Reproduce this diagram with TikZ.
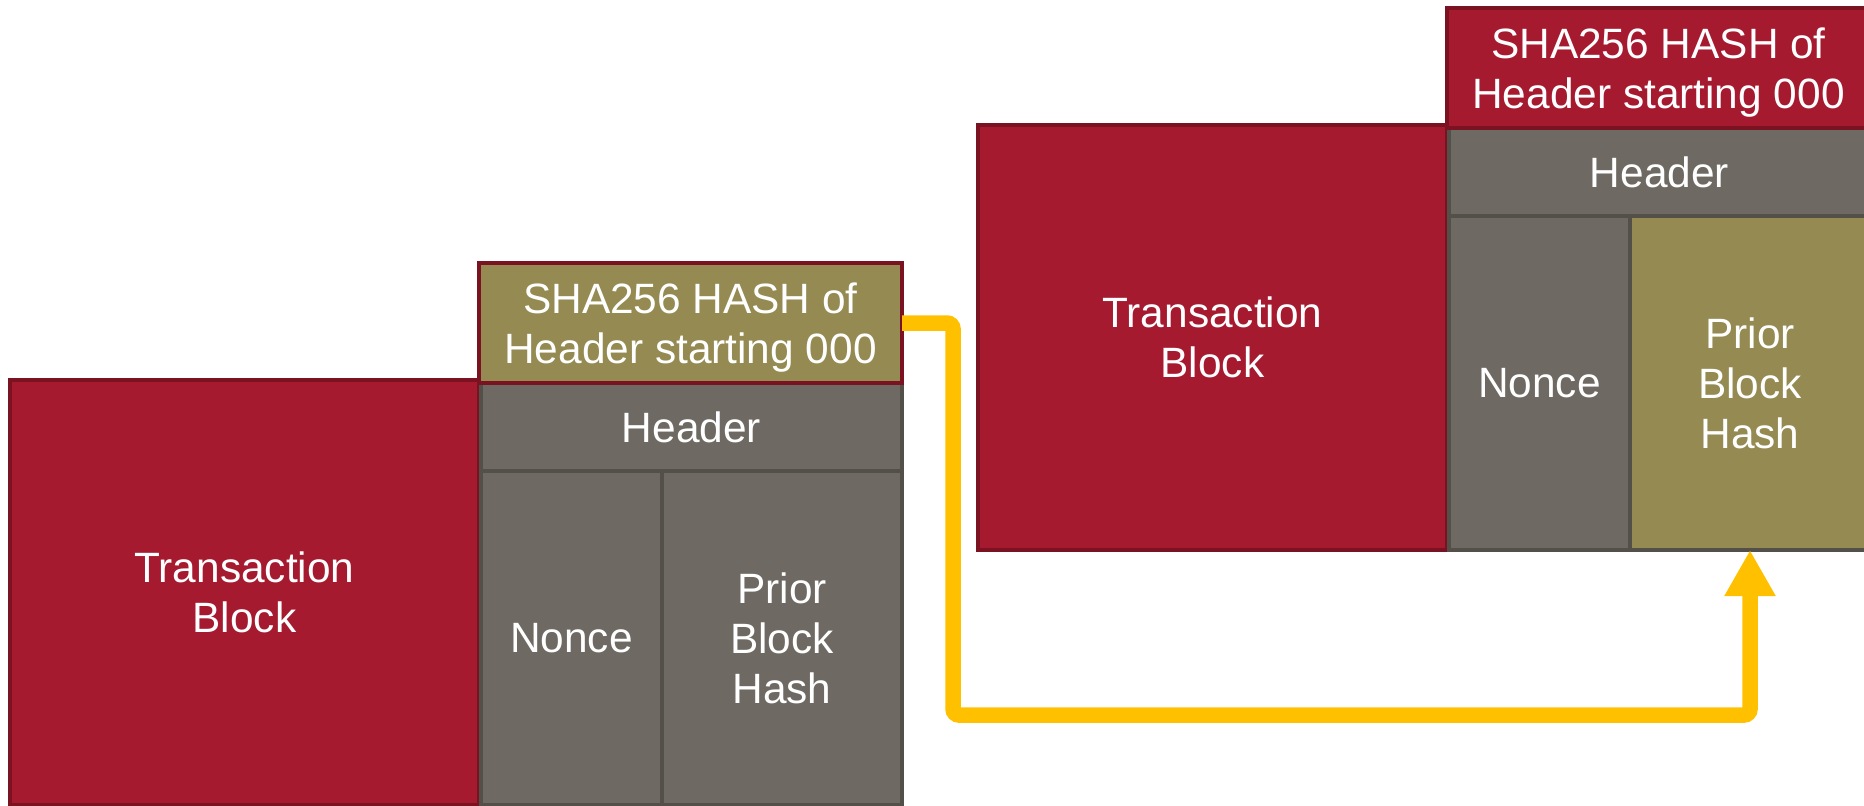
\documentclass[tikz,border=0pt]{standalone}
\usepackage{fontspec}
\setmainfont{Liberation Sans}
\usetikzlibrary{arrows.meta}
\definecolor{blockred}{HTML}{A61A30}
\definecolor{blockredline}{HTML}{7A1222}
\definecolor{headgrey}{HTML}{6E6A63}
\definecolor{headgreyline}{HTML}{53504A}
\definecolor{hasholive}{HTML}{948A52}
\definecolor{linkyellow}{HTML}{FFC000}
\begin{document}
\begin{tikzpicture}[x=0.5pt,y=-0.5pt,
  box/.style={draw, line width=2.2pt, inner sep=0pt, outer sep=0pt, anchor=north west,
    text=white, align=center, font=\fontsize{21.2pt}{25pt}\selectfont},
  redbox/.style={box, fill=blockred, draw=blockredline},
  greybox/.style={box, fill=headgrey, draw=headgreyline},
  transbox/.style={redbox, minimum width=234.5pt, minimum height=212.5pt},
  hashbox/.style={box, draw=blockredline, minimum width=211.5pt, minimum height=60pt, text depth=0pt},
  headbox/.style={greybox, minimum width=210.5pt, minimum height=44pt},
  noncebox/.style={greybox, minimum width=90.5pt, minimum height=167pt},
  priorbox/.style={greybox, minimum width=120pt, minimum height=167pt},
  link/.style={draw=linkyellow, line width=7.75pt, rounded corners=3pt,
    -{Triangle[width=24pt,length=23pt]}}
]
\useasboundingbox (0,0) rectangle (1864,805);

% earlier block: its header hash feeds the next block
\begin{scope}[shift={(10,380)}]
  \node[transbox] (L-trans) at (0,0) {Transaction\\Block};
  \node[headbox] (L-head) at (471,3) {Header};
  \node[noncebox] (L-nonce) at (471,91) {Nonce};
  \node[priorbox] (L-prior) at (652,91) {Prior\\Block\\Hash};
  \node[hashbox, fill=hasholive] (L-hash) at (469,-117) {SHA256 HASH of\\Header starting 000};
\end{scope}

% later block: stores the prior hash
\begin{scope}[shift={(978,125)}]
  \node[transbox] (R-trans) at (0,0) {Transaction\\Block};
  \node[headbox] (R-head) at (471,3) {Header};
  \node[noncebox] (R-nonce) at (471,91) {Nonce};
  \node[priorbox, fill=hasholive] (R-prior) at (652,91) {Prior\\Block\\Hash};
  \node[hashbox, fill=blockred] (R-hash) at (469,-117) {SHA256 HASH of\\Header starting 000};
\end{scope}

% hash carried into the next block
\coordinate (bend) at (953,715);
\draw[link] (L-hash.east) -| (bend) -| (R-prior.south);
\end{tikzpicture}
\end{document}
